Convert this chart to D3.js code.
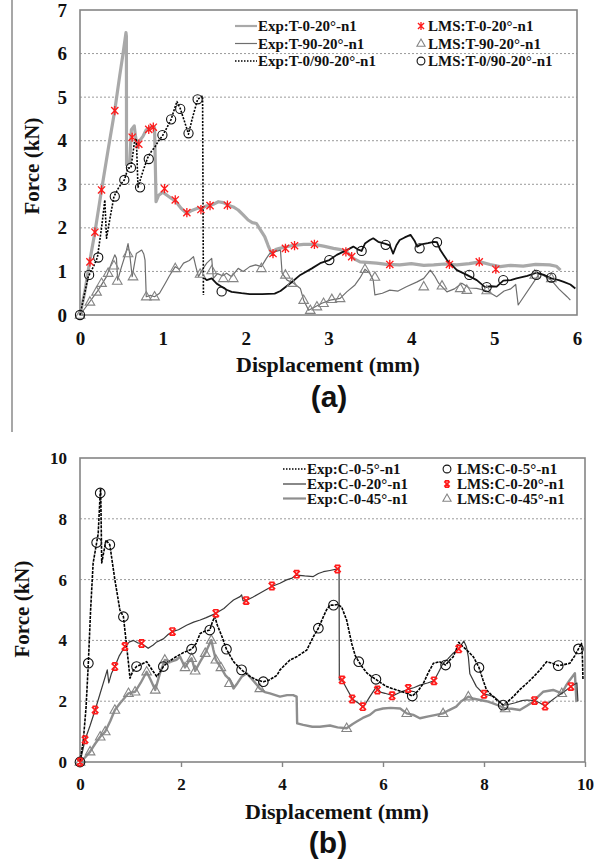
<!DOCTYPE html>
<html><head><meta charset="utf-8">
<script src="https://cdn.jsdelivr.net/npm/d3@7"></script>
<style>body{margin:0;background:#fff}svg{display:block}</style>
</head><body><svg id="c" width="601" height="865"></svg>
<script>
// ---------- Panel (a) data: displacement (mm), force (kN) ----------
const aXTicks = [0,1,2,3,4,5,6];
const aYTicks = [0,1,2,3,4,5,6,7];
const aGrid = [1,2,3,4,5,6];
const aLegendExp = ["Exp:T-0-20°-n1","Exp:T-90-20°-n1","Exp:T-0/90-20°-n1"];
const aLegendLms = ["LMS:T-0-20°-n1","LMS:T-90-20°-n1","LMS:T-0/90-20°-n1"];

const expT0_20 = [[0,0],[0.06,0.55],[0.12,1.26],[0.18,1.9],[0.26,2.87],[0.34,3.8],[0.42,4.7],[0.48,5.5],[0.52,6.0],[0.555,6.48],[0.56,6.4],[0.562,3.45],[0.6,3.5],[0.62,4.25],[0.655,4.34],[0.67,4.1],[0.69,3.86],[0.72,4.0],[0.76,4.1],[0.8,4.25],[0.86,4.32],[0.9,4.3],[0.912,3.2],[0.918,2.6],[0.95,2.75],[1.0,2.82],[1.05,2.75],[1.1,2.68],[1.15,2.62],[1.22,2.45],[1.29,2.33],[1.35,2.4],[1.42,2.45],[1.47,2.45],[1.52,2.5],[1.57,2.52],[1.62,2.55],[1.67,2.6],[1.73,2.58],[1.79,2.52],[1.85,2.48],[1.91,2.41],[1.97,2.3],[2.03,2.18],[2.08,2.12],[2.13,2.1],[2.18,1.95],[2.23,1.8],[2.27,1.6],[2.31,1.42],[2.36,1.5],[2.41,1.53],[2.48,1.56],[2.58,1.6],[2.7,1.62],[2.82,1.62],[2.94,1.58],[3.06,1.53],[3.15,1.5],[3.22,1.45],[3.3,1.3],[3.38,1.22],[3.5,1.2],[3.58,1.19],[3.7,1.16],[3.86,1.15],[4.0,1.18],[4.15,1.14],[4.27,1.15],[4.4,1.17],[4.55,1.15],[4.7,1.18],[4.83,1.22],[4.95,1.16],[5.07,1.11],[5.2,1.14],[5.35,1.12],[5.5,1.16],[5.67,1.15],[5.75,1.12],[5.8,1.03]];

const expT90_20 = [[0,0],[0.12,0.31],[0.22,0.57],[0.32,0.88],[0.38,1.19],[0.42,1.38],[0.44,1.3],[0.455,0.8],[0.5,1.1],[0.55,1.4],[0.58,1.64],[0.6,1.4],[0.63,0.88],[0.66,1.2],[0.68,1.41],[0.745,1.49],[0.77,1.4],[0.785,1.26],[0.8,0.42],[0.85,0.45],[0.9,0.42],[0.96,0.5],[1.03,0.73],[1.08,0.9],[1.15,1.11],[1.2,1.05],[1.25,1.19],[1.32,1.25],[1.37,1.34],[1.4,1.1],[1.43,0.88],[1.48,1.05],[1.53,1.19],[1.59,1.3],[1.61,0.84],[1.66,0.95],[1.72,0.9],[1.77,0.96],[1.83,0.88],[1.91,1.07],[1.97,1.0],[2.05,1.11],[2.12,1.15],[2.19,1.11],[2.25,1.3],[2.29,1.41],[2.35,1.45],[2.42,1.49],[2.44,0.96],[2.5,0.8],[2.58,0.73],[2.66,0.61],[2.7,0.34],[2.76,0.11],[2.8,0.15],[2.84,0.19],[2.92,0.27],[3.02,0.34],[3.14,0.38],[3.22,0.53],[3.32,0.69],[3.38,0.85],[3.44,1.05],[3.5,0.95],[3.54,0.8],[3.56,0.46],[3.65,0.5],[3.74,0.57],[3.84,0.55],[3.94,0.65],[4.07,0.76],[4.15,0.84],[4.23,1.03],[4.28,0.9],[4.33,0.73],[4.43,0.53],[4.52,0.6],[4.61,0.73],[4.7,0.62],[4.79,0.61],[4.9,0.56],[4.96,0.5],[5.03,0.42],[5.12,0.55],[5.2,0.6],[5.26,0.7],[5.29,0.23],[5.55,0.96],[5.6,0.9],[5.69,0.8],[5.78,0.6],[5.88,0.42],[5.92,0.34]];

const expT090_20 = [[0,0],[0.05,0.45],[0.1,0.88],[0.16,1.1],[0.21,1.32],[0.26,2.0],[0.3,2.64],[0.32,1.76],[0.36,2.2],[0.41,2.72],[0.46,2.9],[0.5,3.02],[0.535,3.1],[0.58,3.37],[0.615,3.38],[0.66,4.0],[0.68,4.05],[0.7,2.93],[0.76,3.3],[0.815,3.6],[0.86,3.75],[0.905,3.86],[0.95,4.0],[0.995,4.11],[1.05,4.3],[1.1,4.49],[1.17,4.9],[1.21,4.74],[1.26,4.45],[1.31,4.15],[1.35,4.47],[1.42,4.95],[1.48,5.03],[1.49,0.46],[1.5,0.85],[1.53,0.8],[1.59,0.84],[1.65,0.72],[1.71,0.65],[1.77,0.58],[1.83,0.53],[1.95,0.5],[2.05,0.48],[2.2,0.48],[2.35,0.49],[2.42,0.55],[2.54,0.73],[2.66,0.92],[2.8,1.07],[2.9,1.19],[3.01,1.26],[3.1,1.38],[3.22,1.49],[3.3,1.57],[3.36,1.5],[3.4,1.47],[3.44,1.64],[3.5,1.72],[3.54,1.76],[3.6,1.68],[3.68,1.64],[3.74,1.6],[3.78,1.41],[3.82,1.6],[3.86,1.72],[3.92,1.78],[3.99,1.84],[4.04,1.7],[4.07,1.57],[4.12,1.62],[4.2,1.65],[4.27,1.68],[4.31,1.67],[4.35,1.49],[4.43,1.26],[4.55,1.03],[4.67,0.92],[4.79,0.8],[4.89,0.64],[4.96,0.66],[5.03,0.65],[5.11,0.79],[5.2,0.8],[5.27,0.84],[5.4,0.9],[5.51,0.97],[5.6,0.92],[5.69,0.84],[5.78,0.8],[5.84,0.76],[5.92,0.7],[5.98,0.61]];
const t090SolidFrom = 1.5;

const lmsT0_20 = [[0.12,1.22],[0.18,1.9],[0.26,2.87],[0.42,4.69],[0.63,4.08],[0.71,3.92],[0.83,4.26],[0.885,4.31],[1.02,2.9],[1.15,2.64],[1.29,2.35],[1.46,2.42],[1.57,2.51],[1.78,2.52],[2.33,1.41],[2.48,1.53],[2.59,1.59],[2.83,1.62],[3.21,1.45],[3.28,1.34],[3.74,1.16],[4.46,1.16],[4.82,1.22],[5.02,1.05]];
const lmsT90_20 = [[0,0],[0.12,0.3],[0.2,0.53],[0.26,0.73],[0.34,0.96],[0.41,1.13],[0.45,0.78],[0.58,1.41],[0.64,0.88],[0.8,0.42],[0.9,0.42],[1.15,1.07],[1.45,0.94],[1.59,1.02],[1.73,0.84],[1.85,0.84],[2.19,1.07],[2.48,0.92],[2.56,0.73],[2.7,0.34],[2.78,0.11],[2.86,0.19],[2.94,0.27],[3.04,0.36],[3.14,0.38],[3.44,1.05],[3.56,0.87],[4.15,0.65],[4.37,0.67],[4.59,0.61],[4.67,0.57],[4.91,0.56],[5.49,0.92],[5.69,0.84]];
const lmsT090_20 = [[0,0],[0.11,0.92],[0.22,1.32],[0.42,2.72],[0.535,3.1],[0.615,3.38],[0.725,2.93],[0.83,3.58],[0.995,4.13],[1.1,4.49],[1.21,4.73],[1.31,4.17],[1.42,4.95],[1.71,0.54],[3.01,1.26],[3.4,1.47],[3.69,1.61],[4.1,1.53],[4.31,1.67],[4.7,0.92],[4.91,0.64],[5.11,0.8],[5.51,0.92],[5.69,0.86]];

// ---------- Panel (b) data ----------
const bXTicks = [0,2,4,6,8,10];
const bYTicks = [0,2,4,6,8,10];
const bGrid = [2,4,6,8];
const bLegendExp = ["Exp:C-0-5°-n1","Exp:C-0-20°-n1","Exp:C-0-45°-n1"];
const bLegendLms = ["LMS:C-0-5°-n1","LMS:C-0-20°-n1","LMS:C-0-45°-n1"];

const expC0_5 = [[0,0],[0.066,0.72],[0.12,1.8],[0.165,3.25],[0.21,5.0],[0.26,6.54],[0.33,7.22],[0.36,7.5],[0.4,8.85],[0.41,9.0],[0.43,6.55],[0.47,6.9],[0.515,7.3],[0.59,7.15],[0.69,6.0],[0.79,5.0],[0.86,4.78],[0.96,3.25],[0.99,2.76],[1.05,3.0],[1.12,3.14],[1.2,3.2],[1.32,3.3],[1.42,3.05],[1.52,2.81],[1.6,3.0],[1.65,3.14],[1.75,3.3],[1.91,3.47],[2.05,3.6],[2.21,3.71],[2.3,3.9],[2.38,4.23],[2.47,4.3],[2.57,4.34],[2.62,4.6],[2.67,4.78],[2.72,4.5],[2.81,4.13],[2.9,3.71],[3.04,3.3],[3.2,3.03],[3.37,2.81],[3.5,2.7],[3.63,2.64],[3.75,2.7],[3.9,2.85],[3.96,3.03],[4.16,3.36],[4.29,3.46],[4.49,3.68],[4.62,4.12],[4.72,4.4],[4.82,4.78],[4.88,5.0],[4.95,5.16],[5.02,5.16],[5.1,5.18],[5.18,5.1],[5.28,4.67],[5.38,3.9],[5.45,3.5],[5.52,3.3],[5.6,3.1],[5.68,2.93],[5.78,2.8],[5.86,2.72],[5.96,2.6],[6.07,2.48],[6.27,2.37],[6.47,2.26],[6.58,2.17],[6.7,2.35],[6.8,2.59],[6.9,2.95],[7.0,3.25],[7.12,3.3],[7.24,3.19],[7.32,3.35],[7.39,3.46],[7.45,3.7],[7.5,3.94],[7.58,3.8],[7.66,3.68],[7.79,3.46],[7.9,3.11],[7.98,2.7],[8.05,2.37],[8.15,2.2],[8.25,2.04],[8.38,1.87],[8.48,2.0],[8.58,2.15],[8.72,2.4],[8.85,2.59],[8.98,2.8],[9.11,3.03],[9.24,3.3],[9.35,3.25],[9.47,3.17],[9.58,3.2],[9.7,3.25],[9.8,3.5],[9.87,3.72],[9.93,3.9],[9.95,3.4],[9.96,2.7]];

const expC0_20 = [[0,0],[0.05,0.35],[0.1,0.73],[0.2,1.2],[0.3,1.71],[0.4,2.26],[0.5,2.81],[0.54,3.03],[0.57,2.6],[0.62,2.9],[0.69,3.14],[0.78,3.5],[0.89,3.8],[0.98,3.95],[1.06,4.0],[1.14,3.92],[1.22,3.9],[1.35,3.74],[1.45,3.85],[1.52,3.95],[1.65,4.05],[1.75,4.2],[1.83,4.29],[1.95,4.35],[2.11,4.5],[2.25,4.6],[2.38,4.67],[2.5,4.75],[2.69,4.89],[2.85,5.05],[2.95,5.2],[3.04,5.33],[3.17,5.44],[3.2,5.5],[3.23,5.3],[3.29,5.31],[3.42,5.42],[3.56,5.55],[3.7,5.68],[3.82,5.79],[3.96,5.88],[4.09,5.99],[4.2,6.05],[4.29,6.15],[4.45,6.12],[4.62,6.1],[4.72,6.2],[4.82,6.26],[4.95,6.3],[5.1,6.35],[5.13,6.38],[5.135,2.7],[5.19,2.7],[5.28,2.42],[5.4,2.06],[5.51,1.94],[5.61,1.8],[5.74,2.15],[5.87,2.48],[5.95,2.3],[6.04,2.26],[6.2,2.18],[6.35,2.3],[6.5,2.39],[6.62,2.45],[6.73,2.53],[6.88,2.6],[7.01,2.67],[7.1,2.95],[7.19,3.25],[7.29,3.4],[7.39,3.58],[7.5,3.72],[7.6,3.98],[7.65,3.8],[7.69,3.46],[7.72,2.9],[7.85,2.48],[8.0,2.23],[8.1,2.2],[8.2,2.15],[8.3,2.0],[8.38,1.87],[8.5,1.9],[8.62,1.95],[8.75,2.02],[8.85,2.04],[9.0,2.02],[9.1,1.95],[9.21,1.84],[9.32,2.0],[9.44,2.15],[9.58,2.3],[9.72,2.48],[9.84,2.6],[9.86,2.0]];

const expC0_45 = [[0,0],[0.1,0.15],[0.2,0.34],[0.3,0.6],[0.4,0.83],[0.5,1.0],[0.6,1.35],[0.69,1.71],[0.8,1.95],[0.96,2.26],[1.09,2.31],[1.2,2.6],[1.32,2.97],[1.4,2.7],[1.49,2.37],[1.58,2.9],[1.68,3.36],[1.8,3.3],[1.91,3.36],[1.98,3.47],[2.08,3.11],[2.15,3.3],[2.21,3.41],[2.28,3.0],[2.38,3.3],[2.48,3.58],[2.6,4.01],[2.64,3.7],[2.69,3.36],[2.79,3.11],[2.88,2.85],[2.97,2.7],[3.04,2.42],[3.12,2.6],[3.2,2.8],[3.3,2.92],[3.42,2.7],[3.56,2.42],[3.66,2.3],[3.76,2.26],[3.96,2.15],[4.1,2.2],[4.22,2.2],[4.29,2.15],[4.3,1.27],[4.42,1.22],[4.6,1.16],[4.75,1.16],[4.95,1.2],[5.1,1.14],[5.28,1.11],[5.4,1.25],[5.48,1.33],[5.6,1.45],[5.74,1.55],[5.85,1.7],[6.0,1.76],[6.15,1.78],[6.34,1.76],[6.47,1.6],[6.6,1.55],[6.73,1.44],[6.9,1.5],[7.05,1.55],[7.19,1.6],[7.3,1.7],[7.45,1.82],[7.55,2.0],[7.69,2.15],[7.8,2.08],[7.92,2.04],[8.05,2.0],[8.18,1.93],[8.3,1.85],[8.42,1.76],[8.55,1.75],[8.71,1.71],[8.85,1.85],[8.97,1.98],[9.07,2.15],[9.17,2.31],[9.37,2.37],[9.54,2.26],[9.62,2.5],[9.7,2.7],[9.8,2.92],[9.83,1.97]];

const lmsC0_5 = [[0,0],[0.165,3.25],[0.33,7.22],[0.4,8.85],[0.59,7.15],[0.86,4.78],[1.12,3.14],[1.65,3.14],[2.21,3.71],[2.57,4.34],[2.9,3.71],[3.2,3.03],[3.63,2.64],[4.72,4.4],[5.02,5.16],[5.52,3.3],[5.86,2.72],[6.58,2.17],[7.24,3.19],[7.9,3.11],[8.38,1.87],[9.47,3.17],[9.87,3.72]];
const lmsC0_20 = [[0,0],[0.1,0.73],[0.3,1.71],[0.69,3.14],[0.89,3.8],[1.22,3.9],[1.83,4.29],[2.69,4.89],[3.29,5.31],[3.8,5.79],[4.29,6.18],[5.1,6.35],[5.19,2.7],[5.39,2.07],[5.6,1.82],[5.89,2.37],[6.18,2.18],[6.5,2.42],[7.01,2.67],[7.5,3.72],[8.0,2.23],[9.0,2.02],[9.21,1.84],[9.72,2.48]];
const lmsC0_45 = [[0,0],[0.2,0.34],[0.4,0.83],[0.5,1.0],[0.69,1.71],[0.96,2.26],[1.09,2.31],[1.32,2.97],[1.49,2.37],[1.68,3.36],[2.08,3.11],[2.21,3.41],[2.28,3.0],[2.48,3.58],[2.6,4.01],[2.69,3.36],[2.79,3.11],[2.96,2.59],[3.56,2.42],[5.28,1.11],[6.47,1.6],[7.19,1.6],[7.69,2.15],[8.42,1.76],[9.54,2.26]];

// ---------- drawing ----------
const SERIF = "'Liberation Serif','Times New Roman',serif";
const SANS = "'Liberation Sans',Arial,sans-serif";
const svg = d3.select("#c");
svg.append("rect").attr("width",601).attr("height",865).attr("fill","#fff");

// left page rule
svg.append("line").attr("x1",12).attr("x2",12).attr("y1",0).attr("y2",432)
  .attr("stroke","#8a8a8a").attr("stroke-width",1.5);

const STYLE = {
  light:  {stroke:"#a9a9a9", width:3.2, dash:null},
  thin:   {stroke:"#6e6e6e", width:1.2, dash:null},
  dark:   {stroke:"#3a3a3a", width:1.2, dash:null},
  mid:    {stroke:"#8e8e8e", width:2.4, dash:null},
  dotted: {stroke:"#000", width:1.6, dash:"2,1.4"},
  dotted2:{stroke:"#000", width:1.6, dash:"3,1.1"},
  black:  {stroke:"#111", width:1.8, dash:null}
};

function markerPath(kind, s) {
  if (kind === "tri") return `M0,${-5.2*s}L${4.8*s},${3.2*s}L${-4.8*s},${3.2*s}Z`;
  if (kind === "star") return `M${-3.6*s},${-3.6*s}L${3.6*s},${3.6*s}M${-3.6*s},${3.6*s}L${3.6*s},${-3.6*s}M0,${-4.6*s}L0,${4.6*s}`;
  if (kind === "starb") return `M${-3.2*s},${-3.2*s}L${3.2*s},${3.2*s}M${-3.2*s},${3.2*s}L${3.2*s},${-3.2*s}M${-2.6*s},${-3.6*s}H${2.6*s}M${-2.6*s},${3.6*s}H${2.6*s}`;
  return null;
}
function drawMarker(g, kind, cx, cy, s) {
  if (kind === "circle") {
    g.append("circle").attr("cx",cx).attr("cy",cy).attr("r",4.6*s)
      .attr("fill","none").attr("stroke","#111").attr("stroke-width",1.1);
  } else if (kind === "tri") {
    g.append("path").attr("transform",`translate(${cx},${cy})`).attr("d",markerPath("tri",s))
      .attr("fill","none").attr("stroke","#858585").attr("stroke-width",1.1);
  } else {
    g.append("path").attr("transform",`translate(${cx},${cy})`).attr("d",markerPath(kind,s))
      .attr("fill","none").attr("stroke","#ff1a1a").attr("stroke-width",kind==="starb"?1.7:1.3);
  }
}

function panel(cfg) {
  const x = d3.scaleLinear().domain(cfg.xDomain).range(cfg.xRange);
  const y = d3.scaleLinear().domain(cfg.yDomain).range(cfg.yRange);
  const g = svg.append("g");
  g.selectAll(null).data(cfg.grid).join("line")
    .attr("x1",x.range()[0]).attr("x2",x.range()[1])
    .attr("y1",d=>y(d)).attr("y2",d=>y(d))
    .attr("stroke","#9a9a9a").attr("stroke-width",1).attr("stroke-dasharray","2,2");
  g.append("rect").attr("x",x.range()[0]).attr("y",y.range()[1])
    .attr("width",x.range()[1]-x.range()[0]).attr("height",y.range()[0]-y.range()[1])
    .attr("fill","none").attr("stroke","#858585").attr("stroke-width",1.6);
  const ax = g.append("g").attr("transform",`translate(0,${y.range()[0]})`)
    .call(d3.axisBottom(x).tickValues(cfg.xTicks).tickSize(cfg.xTickSize).tickPadding(cfg.xPad).tickFormat(d3.format("d")));
  const ay = g.append("g").attr("transform",`translate(${x.range()[0]},0)`)
    .call(d3.axisLeft(y).tickValues(cfg.yTicks).tickSize(0).tickPadding(13).tickFormat(d3.format("d")));
  [ax,ay].forEach(a=>{
    a.select(".domain").remove();
    a.selectAll("line").attr("stroke","#858585").attr("stroke-width",1.4);
    a.selectAll("text").attr("font-family",SERIF).attr("font-weight","bold")
      .attr("font-size",cfg.tickFont).attr("fill","#111");
  });
  g.append("text").attr("x",cfg.xTitleX).attr("y",cfg.xTitleY).attr("text-anchor","middle")
    .attr("font-family",SERIF).attr("font-weight","bold").attr("font-size",22).attr("fill","#111")
    .text("Displacement (mm)");
  g.append("text").attr("transform",`translate(${cfg.yTitleX},${cfg.yTitleY}) rotate(-90)`)
    .attr("text-anchor","middle").attr("dominant-baseline","central")
    .attr("font-family",SERIF).attr("font-weight","bold").attr("font-size",21).attr("fill","#111")
    .text("Force (kN)");
  g.append("text").attr("x",cfg.tagX).attr("y",cfg.tagY).attr("text-anchor","middle")
    .attr("font-family",SANS).attr("font-weight","bold").attr("font-size",30).attr("fill","#111")
    .text(cfg.tag);
  const line = d3.line().x(d=>x(d[0])).y(d=>y(d[1]));
  cfg.lines.forEach(L=>{
    const st = STYLE[L.style];
    g.append("path").datum(L.data).attr("d",line).attr("fill","none")
      .attr("stroke",st.stroke).attr("stroke-width",st.width)
      .attr("stroke-linejoin","round")
      .attr("stroke-dasharray",st.dash);
  });
  cfg.markers.forEach(M=>{
    const mg = g.append("g");
    M.data.forEach(d=>drawMarker(mg, M.kind, x(d[0]), y(d[1]), M.scale));
  });
  const Lg = cfg.legend;
  Lg.rows.forEach((ry,i)=>{
    const st = STYLE[Lg.lineStyles[i]];
    g.append("line").attr("x1",Lg.lineX0).attr("x2",Lg.lineX1).attr("y1",ry).attr("y2",ry)
      .attr("stroke",st.stroke).attr("stroke-width",Math.min(st.width,2.2))
      .attr("stroke-dasharray",st.dash?"1.5,1.5":null);
    g.append("text").attr("x",Lg.textX).attr("y",ry).attr("dominant-baseline","central")
      .attr("font-family",SERIF).attr("font-weight","bold").attr("font-size",15).attr("fill","#111")
      .text(Lg.exp[i]);
    drawMarker(g, Lg.markers[i], Lg.markX, ry, Lg.markScale);
    g.append("text").attr("x",Lg.text2X).attr("y",ry).attr("dominant-baseline","central")
      .attr("font-family",SERIF).attr("font-weight","bold").attr("font-size",15).attr("fill","#111")
      .text(Lg.lms[i]);
  });
}

panel({
  xDomain:[0,6], xRange:[80,577], yDomain:[0,7], yRange:[315,10],
  grid:aGrid, xTicks:aXTicks, yTicks:aYTicks, xTickSize:0, xPad:17, tickFont:19,
  xTitleX:328, xTitleY:372, yTitleX:32, yTitleY:166, tagX:329, tagY:407, tag:"(a)",
  lines:[
    {data:expT0_20, style:"light"},
    {data:expT90_20, style:"thin"},
    {data:expT090_20.filter(d=>d[0]<t090SolidFrom), style:"dotted"},
    {data:expT090_20.filter(d=>d[0]>=t090SolidFrom), style:"black"}
  ],
  markers:[
    {data:lmsT90_20, kind:"tri", scale:1},
    {data:lmsT090_20, kind:"circle", scale:1},
    {data:lmsT0_20, kind:"star", scale:1}
  ],
  legend:{rows:[26,43.5,61], lineX0:235, lineX1:257, textX:258, markX:421, text2X:428, markScale:0.85,
    exp:aLegendExp, lms:aLegendLms, lineStyles:["light","thin","dotted"], markers:["star","tri","circle"]}
});

panel({
  xDomain:[0,10], xRange:[80,585], yDomain:[0,10], yRange:[762,458],
  grid:bGrid, xTicks:bXTicks, yTicks:bYTicks, xTickSize:5, xPad:11, tickFont:17,
  xTitleX:337, xTitleY:819, yTitleX:22, yTitleY:609, tagX:328, tagY:853, tag:"(b)",
  lines:[
    {data:expC0_45, style:"mid"},
    {data:expC0_20, style:"dark"},
    {data:expC0_5, style:"dotted2"}
  ],
  markers:[
    {data:lmsC0_45, kind:"tri", scale:1},
    {data:lmsC0_5, kind:"circle", scale:1.05},
    {data:lmsC0_20, kind:"starb", scale:1}
  ],
  legend:{rows:[469,484,498.5], lineX0:283, lineX1:306, textX:307, markX:447, text2X:457, markScale:0.85,
    exp:bLegendExp, lms:bLegendLms, lineStyles:["dotted","dark","mid"], markers:["circle","starb","tri"]}
});
</script></body></html>
